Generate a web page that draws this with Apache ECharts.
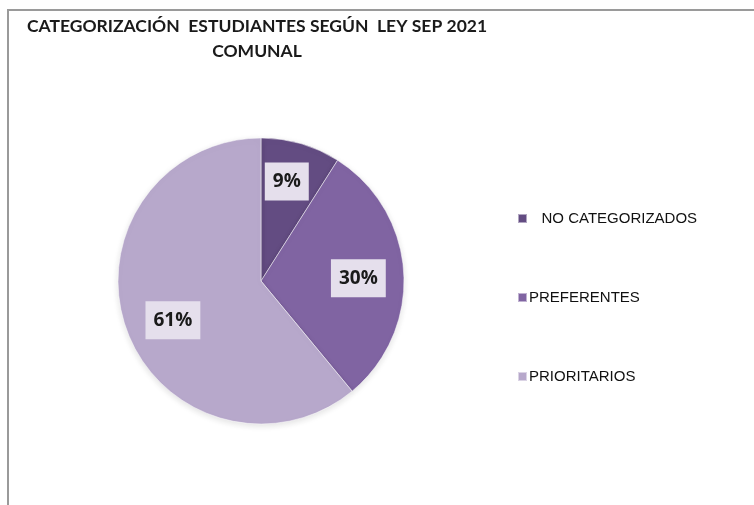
<!DOCTYPE html>
<html>
<head>
<meta charset="utf-8">
<script src="https://cdn.jsdelivr.net/npm/echarts@6/dist/echarts.min.js"></script>
<style>
  html, body { margin: 0; padding: 0; background: #fff; }
  #chart { width: 754px; height: 505px; }
  #frame { position: absolute; left: 7px; top: 9px; width: 760px; height: 510px;
           border-left: 2px solid #9a9a9a; border-top: 2px solid #9a9a9a; pointer-events: none; }
</style>
</head>
<body>
<div id="chart"></div>
<div id="frame"></div>
<script>
// categorias y porcentajes
var categorias = ['NO CATEGORIZADOS', 'PREFERENTES', 'PRIORITARIOS'];
var porcentajes = [9, 30, 61];
var colores = ['#634C82', '#8064A2', '#B7A8CB'];

// desplazamiento de etiquetas (estilo Excel, mas afuera que 'inside')
var labelShift = [[5, -28], [23, 2], [-18, 14]];

var serie = [];
for (var i = 0; i < categorias.length; i++) {
    serie.push({ name: categorias[i], value: porcentajes[i], itemStyle: { color: colores[i] } });
}

var chart = echarts.init(document.getElementById('chart'));
var option = {
    backgroundColor: '#fff',
    animation: false,
    title: {
        text: 'CATEGORIZACIÓN  ESTUDIANTES SEGÚN  LEY SEP 2021\nCOMUNAL',
        left: 252,
        top: 9,
        textAlign: 'center',
        textStyle: {
            fontFamily: 'Lato',
            fontWeight: 'bold',
            fontSize: 17.5,
            lineHeight: 25,
            color: '#1a1a1a'
        }
    },
    legend: {
        orient: 'vertical',
        left: 512,
        top: 206,
        itemWidth: 9,
        itemHeight: 9,
        itemGap: 64,
        icon: 'rect',
        data: categorias,
        formatter: function (name) {
            return name === 'NO CATEGORIZADOS' ? '   ' + name : name;
        },
        textStyle: {
            fontFamily: 'Liberation Sans',
            fontSize: 15,
            color: '#111',
            padding: [0, 0, 0, -3]
        }
    },
    series: [{
        name: 'Categorización',
        type: 'pie',
        radius: 143,
        center: [261, 281],
        startAngle: 90,
        clockwise: true,
        data: serie,
        itemStyle: {
            borderColor: 'rgba(255,255,255,0.5)',
            borderWidth: 1,
            shadowBlur: 6,
            shadowColor: 'rgba(0,0,0,0.12)',
            shadowOffsetY: 2
        },
        label: {
            show: true,
            position: 'inside',
            formatter: '{c}%',
            fontFamily: 'Open Sans',
            fontWeight: 'bold',
            fontSize: 19,
            color: '#1a1a1a',
            backgroundColor: '#E5DFEC',
            padding: [10, 8, 9, 8]
        },
        labelLayout: function (params) {
            var s = labelShift[params.dataIndex];
            return { dx: s[0], dy: s[1] };
        },
        labelLine: { show: false }
    }]
};
chart.setOption(option);
</script>
</body>
</html>
